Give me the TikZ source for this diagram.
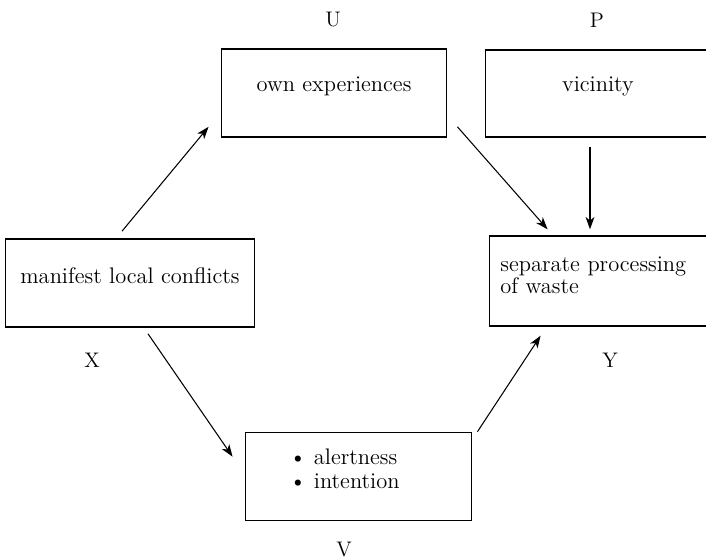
\documentclass[tikz,border=0pt]{standalone}
\usetikzlibrary{positioning,arrows.meta}

\tikzset{
  box/.style={draw, line width=1pt, inner sep=0pt, minimum width=128.1pt,
    minimum height=50pt, font=\fontsize{12.8}{14}\selectfont, text height=9pt},
  lbl/.style={font=\fontsize{12}{14}\selectfont},
  conn/.style={-{Stealth[length=7pt,width=5pt,inset=2pt]}, line width=0.6pt},
}

\begin{document}
\begin{tikzpicture}[x=0.02cm, y=-0.02cm]
  \clip (0,0) rectangle (706,560);

  % the five blocks
  \node[box, text depth=11.2pt] (own) at (334,93) {own experiences};
  \node[box, text depth=11.5pt, minimum height=49.3pt] (vic) at (598,93.5) {vicinity};
  \node[box, text depth=7.9pt, minimum width=141.7pt] (mlc) at (130,283) {manifest local conflicts};
  \node[box, text depth=20.3pt, minimum height=51pt, text width=115.7pt, align=left,
    font=\fontsize{12.8}{11}\selectfont] (sep) at (602,281) {separate processing\\of waste};
  \node[box, text depth=23.2pt, minimum width=128.7pt, text width=78.8pt, align=left,
    font=\fontsize{12.8}{14.2}\selectfont] (alert) at (358.5,476.5)
    {\textbullet\ alertness\\\textbullet\ intention};

  % variable letters
  \node[lbl] (U) at (333,20) {U};
  \node[lbl] (P) at (597,20) {P};
  \node[lbl] (X) at (92,360) {X};
  \node[lbl] (Y) at (610,360) {Y};
  \node[lbl] (V) at (344,550) {V};

  % paths
  \draw[conn] ([shift={(-8,-7)}]mlc.north) -- ([shift={(-12,-11)}]own.south west);
  \draw[conn] ([shift={(10,-11)}]own.south east) -- ([shift={(59,-6)}]sep.north west);
  \draw[conn] ([shift={(-8,9)}]vic.south) -- ([shift={(-12,-6)}]sep.north);
  \draw[conn] ([shift={(18,6)}]mlc.south) -- ([shift={(-12,25)}]alert.north west);
  \draw[conn] ([shift={(5,0)}]alert.north east) -- ([shift={(52,9)}]sep.south west);
\end{tikzpicture}
\end{document}
